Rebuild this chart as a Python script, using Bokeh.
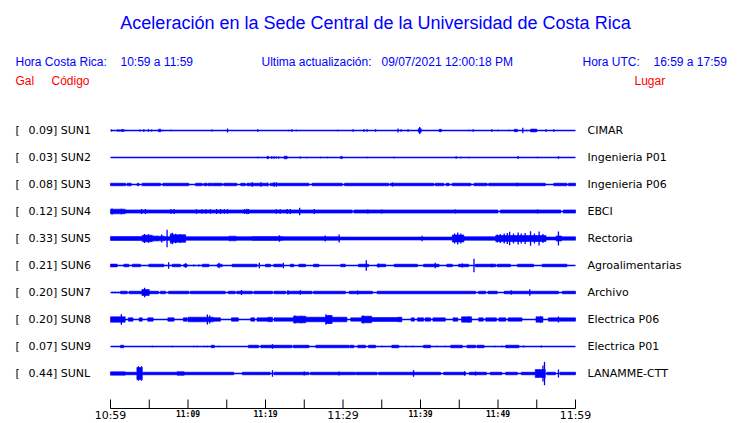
from bokeh.plotting import figure
from bokeh.models import Range1d
from bokeh.embed import file_html
from bokeh.resources import INLINE
from bokeh.core.properties import value

# ---------------- data ----------------
stations = ["SUN1", "SUN2", "SUN3", "SUN4", "SUN5", "SUN6", "SUN7", "SUN8", "SUN9", "SUNL"]
gal_peak = [0.09, 0.03, 0.08, 0.12, 0.33, 0.21, 0.20, 0.20, 0.07, 0.44]
places = ["CIMAR", "Ingenieria P01", "Ingenieria P06", "EBCI", "Rectoria",
          "Agroalimentarias", "Archivo", "Electrica P06", "Electrica P01", "LANAMME-CTT"]

# bands: (start minute, end minute, envelope half-amplitude); spikes: (minute, half-amplitude)
sun1_bands = [(1.4, 1.7, 1.0), (6.2, 6.5, 1.3), (39.7, 40.1, 1.8), (42.4, 42.7, 1.2), (52.1, 52.5, 1.2), (54.2, 55.0, 1.4)]
sun1_spikes = [(0.13, 1.0), (0.95, 1.2), (1.2, 1.0), (1.85, 0.8), (3.8, 1.0), (4.3, 1.2), (4.9, 1.2), (5.3, 1.0),
               (6.75, 0.8), (7.8, 0.8), (13.1, 1.0), (15.1, 2.0), (19.0, 1.2), (23.0, 0.8), (23.4, 1.2), (24.0, 0.8),
               (29.3, 0.8), (31.3, 1.2), (32.7, 1.2), (33.1, 1.2), (34.2, 1.2), (37.1, 2.0), (37.5, 1.2), (38.4, 1.2),
               (39.9, 3.5), (46.2, 0.8), (46.8, 1.2), (49.2, 1.2), (50.0, 0.8), (51.4, 0.8), (53.2, 2.7), (53.7, 0.8),
               (56.2, 1.2), (57.2, 1.2)]

sun2_bands = [(20.2, 20.4, 1.2), (22.4, 22.8, 1.3), (29.7, 29.9, 1.2)]
sun2_spikes = [(19.0, 0.8), (20.8, 1.2), (21.1, 1.2), (21.4, 1.0), (21.7, 1.0), (24.5, 1.0), (25.3, 0.7), (27.1, 0.7),
               (28.0, 0.8), (33.1, 0.8), (36.6, 0.8), (44.6, 1.2), (45.2, 0.7), (46.2, 0.8), (52.6, 1.5), (55.1, 0.7),
               (57.8, 1.2)]

sun3_bands = [(0.0, 1.94, 1.3), (2.15, 2.67, 1.3), (3.44, 3.66, 1.3), (4.09, 6.45, 1.3), (6.75, 10.1, 1.3),
              (10.97, 11.83, 1.3), (12.04, 12.47, 1.3), (12.6, 13.12, 1.3), (13.2, 14.4, 1.3), (14.6, 16.3, 1.3),
              (16.8, 17.4, 1.3), (17.6, 20.2, 1.3), (20.6, 21.3, 1.3), (21.5, 25.6, 1.3), (26.0, 29.9, 1.3),
              (30.2, 35.9, 1.3), (36.1, 41.7, 1.3), (41.9, 43.0, 1.3), (43.3, 43.7, 1.3), (44.1, 46.5, 1.3),
              (46.9, 48.6, 1.3), (48.8, 56.1, 1.3), (57.2, 58.9, 1.3), (59.1, 60.0, 1.3)]
sun3_spikes = [(18.3, 2.3), (19.4, 2.3), (20.3, 2.0), (21.1, 2.3), (21.4, 2.3), (36.4, 2.0), (52.5, 1.7)]

sun4_bands = [(0.0, 1.9, 2.3), (1.9, 31.2, 1.6), (31.4, 50.0, 1.6), (50.3, 58.1, 1.6), (58.4, 60.0, 1.6)]
sun4_spikes = [(0.2, 3.0), (1.4, 2.7), (4.0, 2.5), (4.5, 2.5), (7.8, 2.5), (8.2, 2.5), (11.1, 2.2), (11.8, 2.2),
               (12.3, 2.2), (12.9, 2.2), (13.7, 2.5), (14.2, 2.5), (14.7, 2.3), (15.1, 2.3), (17.3, 2.5), (17.6, 2.7),
               (17.8, 2.5), (21.4, 2.2), (21.9, 2.3), (22.8, 2.5), (23.2, 2.5), (24.4, 3.7), (26.3, 2.5), (33.2, 2.0),
               (35.0, 2.0), (44.5, 2.0), (55.1, 2.0)]

sun5_bands = [(0.0, 4.1, 2.0), (4.1, 5.4, 3.3), (5.4, 7.0, 2.3), (7.0, 7.7, 1.8), (7.7, 9.7, 3.8), (9.7, 15.3, 1.8),
              (15.3, 16.2, 2.3), (16.2, 18.3, 1.8), (18.3, 22.2, 2.0), (22.2, 29.5, 1.8), (29.5, 44.1, 1.5),
              (44.1, 45.6, 3.5), (45.6, 49.7, 1.8), (49.7, 56.2, 3.0), (56.2, 57.5, 1.5), (57.5, 58.2, 2.5),
              (58.2, 60.0, 1.7)]
sun5_spikes = [(4.4, 4.5), (4.9, 4.3), (5.6, 2.7), (6.0, 2.7), (6.6, 4.0), (7.3, 8.7), (7.8, 5.3), (8.0, 5.7),
               (8.4, 4.7), (9.0, 4.3), (21.8, 3.3), (27.7, 3.0), (29.5, 4.0), (40.2, 2.7), (44.4, 5.0), (44.8, 6.0),
               (45.2, 5.0), (49.9, 4.0), (50.3, 4.5), (50.8, 5.0), (51.2, 5.5), (51.5, 6.7), (52.0, 5.0), (52.6, 6.0),
               (53.0, 5.0), (53.5, 5.5), (54.2, 7.3), (54.7, 5.0), (55.3, 7.0), (55.8, 4.5), (57.8, 7.0)]

sun6_bands = [(0.0, 0.86, 1.4), (1.72, 2.37, 1.3), (2.8, 3.87, 1.3), (4.95, 6.88, 1.3), (7.96, 9.03, 1.3),
              (9.46, 9.89, 1.3), (11.83, 12.69, 1.3), (13.76, 14.4, 1.3), (15.7, 18.9, 1.3), (20.0, 20.65, 1.3),
              (21.07, 22.15, 1.3), (23.2, 23.66, 1.3), (24.3, 25.16, 1.3), (26.2, 26.9, 1.3), (29.7, 30.3, 1.3),
              (32.0, 33.3, 1.3), (34.4, 35.5, 1.3), (36.6, 39.6, 1.3), (40.4, 42.4, 1.3), (43.4, 44.1, 1.3),
              (44.9, 46.2, 1.3), (47.1, 49.7, 1.3), (49.9, 51.6, 1.3), (52.5, 54.6, 1.3), (55.7, 58.9, 1.3)]
sun6_spikes = [(7.5, 3.3), (9.7, 2.3), (10.75, 1.0), (11.4, 1.0), (14.0, 2.7), (19.2, 2.7), (22.3, 2.7), (33.0, 5.3),
               (34.6, 2.0), (41.9, 2.7), (45.4, 2.0), (46.9, 6.7), (49.2, 1.7)]

sun7_bands = [(1.3, 2.15, 1.3), (2.4, 4.1, 1.3), (4.1, 5.0, 3.0), (5.0, 6.2, 1.3), (6.45, 7.1, 1.3), (7.5, 10.1, 1.3),
              (10.3, 14.8, 1.3), (15.2, 16.1, 1.3), (16.3, 18.3, 1.3), (18.5, 20.9, 1.3), (21.1, 22.6, 1.3),
              (22.8, 26.0, 1.3), (26.2, 30.3, 1.3), (30.8, 33.8, 1.3), (34.4, 47.1, 1.3), (47.5, 48.4, 1.3),
              (48.7, 49.9, 1.3), (50.8, 57.8, 1.3), (58.3, 60.0, 1.3)]
sun7_spikes = [(0.3, 0.8), (0.6, 0.8), (1.0, 0.8), (4.1, 3.0), (4.4, 4.7), (16.9, 2.5), (22.9, 2.3), (24.5, 2.3),
               (31.9, 2.0), (51.7, 2.3), (54.1, 3.3)]

sun8_bands = [(0.0, 1.9, 2.7), (2.3, 2.9, 1.7), (3.7, 4.1, 1.7), (4.8, 5.5, 1.7), (7.4, 8.2, 1.7), (9.4, 9.9, 1.7),
              (10.0, 13.3, 2.3), (13.3, 14.2, 1.7), (15.6, 16.5, 1.7), (18.1, 18.6, 1.7), (18.9, 20.3, 1.7),
              (20.3, 20.9, 2.2), (21.1, 23.6, 1.7), (23.6, 25.2, 3.3), (25.2, 27.8, 2.3), (27.8, 28.6, 4.0),
              (28.6, 30.5, 2.3), (31.0, 32.4, 1.7), (32.4, 33.7, 3.3), (33.7, 37.1, 2.0), (37.1, 37.6, 2.3),
              (38.8, 39.2, 1.7), (39.6, 40.4, 1.7), (40.6, 41.3, 1.7), (41.6, 43.2, 1.7), (44.2, 44.8, 1.7),
              (45.3, 46.6, 2.7), (47.5, 48.1, 1.7), (48.4, 49.8, 1.7), (50.1, 51.0, 1.7), (51.3, 53.1, 1.7),
              (54.9, 55.8, 2.7), (56.5, 60.0, 1.7)]
sun8_spikes = [(1.4, 5.3), (12.5, 5.0), (12.8, 4.0), (23.8, 4.0), (24.6, 3.7), (27.8, 5.3), (28.2, 4.5), (32.6, 4.0),
               (46.2, 3.0), (55.5, 3.3), (57.8, 3.0)]

sun9_bands = [(1.3, 1.7, 1.3), (13.0, 13.4, 1.3), (17.8, 19.1, 1.3), (19.4, 23.4, 1.3), (23.6, 25.6, 1.3),
              (26.5, 30.8, 1.3), (30.9, 31.4, 1.3), (31.9, 32.9, 1.3), (33.3, 34.2, 1.3), (36.3, 37.2, 1.3),
              (40.4, 41.3, 1.3), (43.9, 45.4, 1.3), (46.0, 47.1, 1.3), (47.3, 48.2, 1.3), (51.0, 52.7, 1.3)]
sun9_spikes = [(5.4, 0.7), (8.0, 0.8), (10.75, 0.8), (11.2, 0.8), (12.1, 0.8), (12.5, 0.8), (14.0, 0.8), (20.9, 2.3),
               (35.0, 0.8), (38.1, 0.8), (39.0, 0.8), (42.1, 0.8), (43.2, 0.8), (49.6, 0.8), (50.5, 0.8), (53.3, 1.0),
               (55.6, 1.0)]

sunl_bands = [(0.0, 1.9, 1.7), (1.9, 3.4, 1.3), (3.4, 4.1, 6.0), (4.1, 15.9, 1.3), (8.6, 9.5, 1.7), (17.0, 20.6, 1.3),
              (21.1, 25.6, 1.3), (25.8, 31.6, 1.3), (31.7, 34.4, 1.3), (34.6, 42.6, 1.3), (43.0, 45.8, 1.3),
              (46.3, 48.5, 1.3), (49.0, 50.5, 1.3), (51.0, 52.5, 1.3), (53.0, 54.8, 1.3), (54.8, 56.1, 4.0),
              (56.3, 57.4, 1.3), (58.0, 60.0, 1.3)]
sunl_spikes = [(3.6, 7.3), (4.0, 7.3), (20.9, 3.3), (25.0, 2.0), (29.5, 2.0), (39.1, 3.3), (45.7, 2.3), (47.1, 2.0),
               (55.8, 8.0), (56.0, 11.7), (57.8, 4.0)]

all_bands = [sun1_bands, sun2_bands, sun3_bands, sun4_bands, sun5_bands,
             sun6_bands, sun7_bands, sun8_bands, sun9_bands, sunl_bands]
all_spikes = [sun1_spikes, sun2_spikes, sun3_spikes, sun4_spikes, sun5_spikes,
              sun6_spikes, sun7_spikes, sun8_spikes, sun9_spikes, sunl_spikes]

tick_minutes = [0, 5, 10, 15, 20, 25, 30, 35, 40, 45, 50, 55, 60]
major_ticks = [0, 30, 60]
major_labels = ["10:59", "11:29", "11:59"]
minor_ticks = [10, 20, 40, 50]
minor_labels = ["11:09", "11:19", "11:39", "11:49"]

# ---------------- layout (canvas pixels == picture pixels) ----------------
W, H = 740, 423
PX_PER_MIN = 7.75
X0 = 110.0  # x pixel of minute 0


def pm(px):
    """x pixel -> minute coordinate"""
    return (px - X0) / PX_PER_MIN


p = figure(width=W, height=H, output_backend="svg", toolbar_location=None,
           x_range=Range1d(pm(0), pm(W)), y_range=Range1d(H, 0),
           x_axis_location=None, y_axis_location=None, min_border=0)
p.grid.visible = False
p.outline_line_color = None
p.background_fill_color = "white"
p.border_fill_color = "white"

BLUE = "#0000ff"
RED = "#ff0000"
SANS = value("Liberation Sans")
DJ = value("DejaVu Sans")

# header
p.text(x=[pm(375)], y=[22], text=["Aceleración en la Sede Central de la Universidad de Costa Rica"],
       text_font=SANS, text_font_size="18px", text_color=BLUE, text_align="center", text_baseline="middle")
hx = [pm(15), pm(120), pm(261), pm(381), pm(582), pm(653)]
htxt = ["Hora Costa Rica:", "10:59 a 11:59", "Ultima actualización:", "09/07/2021 12:00:18 PM",
        "Hora UTC:", "16:59 a 17:59"]
p.text(x=hx, y=[61] * len(hx), text=htxt, text_font=SANS, text_font_size="12px", text_color=BLUE,
       text_align="left", text_baseline="middle")
p.text(x=[pm(15), pm(51), pm(634)], y=[80, 80, 80], text=["Gal", "Código", "Lugar"],
       text_font=SANS, text_font_size="12px", text_color=RED, text_align="left", text_baseline="middle")

# traces
ROW0, ROWSTEP = 130, 27
for i, st in enumerate(stations):
    yc = ROW0 + ROWSTEP * i
    p.segment(x0=[0], y0=[yc], x1=[60], y1=[yc], line_color=BLUE, line_width=1.4)
    b = all_bands[i]
    if b:
        p.quad(left=[s for s, e, a in b], right=[e for s, e, a in b],
               top=[yc - a for s, e, a in b], bottom=[yc + a for s, e, a in b],
               fill_color=BLUE, line_color=BLUE, line_width=0.6)
    sp = all_spikes[i]
    if sp:
        p.segment(x0=[t for t, a in sp], x1=[t for t, a in sp],
                  y0=[yc - a for t, a in sp], y1=[yc + a for t, a in sp],
                  line_color=BLUE, line_width=1.3)
    p.text(x=[pm(15)], y=[yc], text=["["], text_font=DJ, text_font_size="11px", text_color="black",
           text_baseline="middle")
    p.text(x=[pm(28)], y=[yc], text=[f"{gal_peak[i]:.2f}] {st}"], text_font=DJ, text_font_size="11px",
           text_color="black", text_baseline="middle")
    p.text(x=[pm(587)], y=[yc], text=[places[i]], text_font=DJ, text_font_size="11px",
           text_color="black", text_baseline="middle")

# time axis
AX_Y = 408
p.segment(x0=[0], y0=[AX_Y], x1=[60], y1=[AX_Y], line_color="black", line_width=1)
p.segment(x0=tick_minutes, x1=tick_minutes, y0=[AX_Y] * len(tick_minutes),
          y1=[AX_Y - 9] * len(tick_minutes), line_color="black", line_width=1)
p.text(x=major_ticks, y=[415] * 3, text=major_labels, text_font=DJ, text_font_size="11px",
       text_color="black", text_align="center", text_baseline="middle")
p.text(x=minor_ticks, y=[414] * 4, text=minor_labels, text_font=value("DejaVu Sans Mono"),
       text_font_size="8px", text_font_style="bold", text_color="black", text_align="center",
       text_baseline="middle")

open("out.html", "w").write(file_html(p, INLINE))
